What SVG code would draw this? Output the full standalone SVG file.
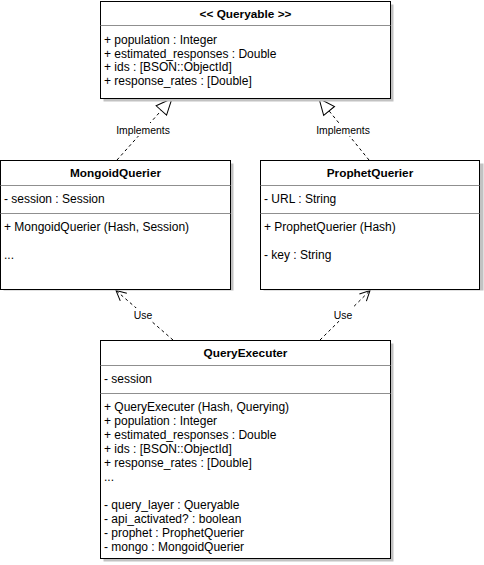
<svg xmlns="http://www.w3.org/2000/svg" width="484" height="565" viewBox="0 0 484 565">
  <style>
    .box { fill: #ffffff; stroke: #000000; stroke-width: 1; }
    .shadow { fill: #c2c2c2; stroke: none; }
    .sep { stroke: #8f8f8f; stroke-width: 1; }
    .title { font-family: "Liberation Sans", Arial, sans-serif; font-size: 11.8px; font-weight: bold; fill: #000000; text-anchor: middle; }
    .member { font-family: "Liberation Sans", Arial, sans-serif; font-size: 12px; fill: #000000; }
    .edge { fill: none; stroke: #000000; stroke-width: 1; stroke-dasharray: 3 3; }
    .elabel { font-family: "Liberation Sans", Arial, sans-serif; font-size: 10.4px; fill: #000000; text-anchor: middle; }
  </style>
  <defs>
    <marker id="realize" markerUnits="userSpaceOnUse" markerWidth="20" markerHeight="18" refX="17" refY="8" orient="auto">
      <path d="M1,1 L17,8 L1,15 Z" fill="#ffffff" stroke="#000000" stroke-width="1"/>
    </marker>
    <marker id="open" markerUnits="userSpaceOnUse" markerWidth="14" markerHeight="14" refX="11" refY="6" orient="auto">
      <path d="M1,1 L11,6 L1,11" fill="none" stroke="#000000" stroke-width="1"/>
    </marker>
  </defs>

  <!-- connectors -->
  <g id="connectors">
    <line class="edge" x1="117" y1="160" x2="172" y2="98.5" marker-end="url(#realize)"/>
    <line class="edge" x1="369" y1="160" x2="319" y2="98.5" marker-end="url(#realize)"/>
    <line class="edge" x1="173" y1="340" x2="116" y2="290.5" marker-end="url(#open)"/>
    <line class="edge" x1="320" y1="340" x2="370" y2="290.5" marker-end="url(#open)"/>
    <rect x="114" y="123" width="58" height="13" fill="#ffffff"/>
    <text class="elabel" x="143" y="133.5">Implements</text>
    <rect x="314" y="123" width="58" height="13" fill="#ffffff"/>
    <text class="elabel" x="343" y="133.5">Implements</text>
    <rect x="132" y="308" width="22" height="13" fill="#ffffff"/>
    <text class="elabel" x="143" y="318.5">Use</text>
    <rect x="332" y="308" width="22" height="13" fill="#ffffff"/>
    <text class="elabel" x="343" y="318.5">Use</text>
  </g>

  <!-- interface -->
  <g id="queryable">
    <rect class="shadow" x="103.5" y="4.5" width="290" height="97"/>
    <rect class="box" x="100.5" y="1.5" width="290" height="97"/>
    <line class="sep" x1="100.5" y1="25.5" x2="390.5" y2="25.5"/>
    <text class="title" x="245.5" y="17.5">&lt;&lt; Queryable &gt;&gt;</text>
    <text class="member" x="104" y="44">+ population : Integer</text>
    <text class="member" x="104" y="57.5">+ estimated_responses : Double</text>
    <text class="member" x="104" y="71">+ ids : [BSON::ObjectId]</text>
    <text class="member" x="104" y="84.5">+ response_rates : [Double]</text>
  </g>

  <g id="mongoid-querier">
    <rect class="shadow" x="3.5" y="163.5" width="230" height="127"/>
    <rect class="box" x="0.5" y="160.5" width="230" height="129"/>
    <line class="sep" x1="0.5" y1="185.5" x2="230.5" y2="185.5"/>
    <line class="sep" x1="0.5" y1="213.5" x2="230.5" y2="213.5"/>
    <text class="title" x="115.5" y="176.5">MongoidQuerier</text>
    <text class="member" x="4" y="202.5">- session : Session</text>
    <text class="member" x="4" y="231">+ MongoidQuerier (Hash, Session)</text>
    <text class="member" x="4" y="259">...</text>
  </g>

  <g id="prophet-querier">
    <rect class="shadow" x="263.5" y="163.5" width="220" height="127"/>
    <rect class="box" x="260.5" y="160.5" width="219" height="129"/>
    <line class="sep" x1="260.5" y1="185.5" x2="479.5" y2="185.5"/>
    <line class="sep" x1="260.5" y1="213.5" x2="479.5" y2="213.5"/>
    <text class="title" x="370" y="176.5">ProphetQuerier</text>
    <text class="member" x="264" y="202.5">- URL : String</text>
    <text class="member" x="264" y="231">+ ProphetQuerier (Hash)</text>
    <text class="member" x="264" y="259">- key : String</text>
  </g>

  <g id="query-executer">
    <rect class="shadow" x="103.5" y="343.5" width="290" height="218"/>
    <rect class="box" x="100.5" y="340.5" width="290" height="218"/>
    <line class="sep" x1="100.5" y1="365.5" x2="390.5" y2="365.5"/>
    <line class="sep" x1="100.5" y1="393.5" x2="390.5" y2="393.5"/>
    <text class="title" x="245.5" y="356.5">QueryExecuter</text>
    <text class="member" x="104" y="382.5">- session</text>
    <text class="member" x="104" y="411">+ QueryExecuter (Hash, Querying)</text>
    <text class="member" x="104" y="425">+ population : Integer</text>
    <text class="member" x="104" y="439">+ estimated_responses : Double</text>
    <text class="member" x="104" y="453">+ ids : [BSON::ObjectId]</text>
    <text class="member" x="104" y="467">+ response_rates : [Double]</text>
    <text class="member" x="104" y="481">...</text>
    <text class="member" x="104" y="509">- query_layer : Queryable</text>
    <text class="member" x="104" y="523">- api_activated? : boolean</text>
    <text class="member" x="104" y="537">- prophet : ProphetQuerier</text>
    <text class="member" x="104" y="551">- mongo : MongoidQuerier</text>
  </g>
</svg>
